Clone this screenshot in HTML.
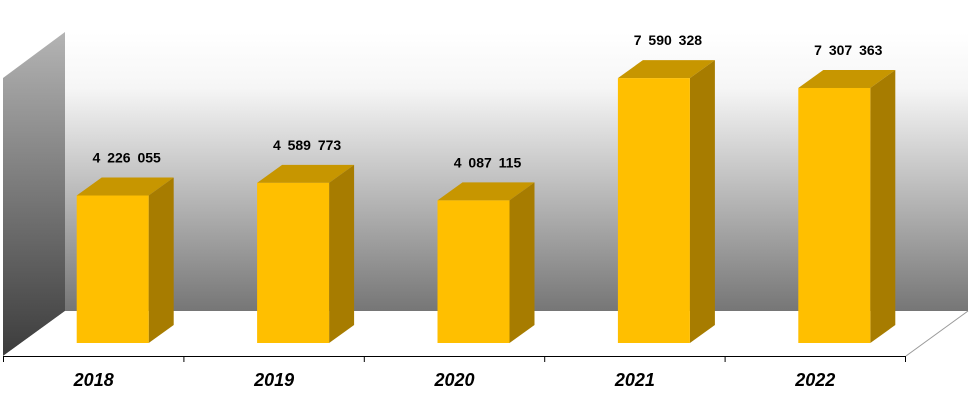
<!DOCTYPE html>
<html><head><meta charset="utf-8"><style>
html,body{margin:0;padding:0;background:#fff;width:977px;height:416px;overflow:hidden}
svg{display:block}
text{font-family:"Liberation Sans",sans-serif;font-weight:bold}
</style></head><body>
<svg id="chart" width="977" height="416" viewBox="0 0 977 416" xmlns="http://www.w3.org/2000/svg">
<defs>
<linearGradient id="backG" x1="0" y1="0" x2="0" y2="1">
<stop offset="0" stop-color="#ffffff"/><stop offset="0.2" stop-color="#f6f6f6"/><stop offset="1" stop-color="#767676"/>
</linearGradient>
<linearGradient id="leftG" x1="0" y1="0" x2="0" y2="1">
<stop offset="0" stop-color="#b4b4b4"/><stop offset="1" stop-color="#3c3c3c"/>
</linearGradient>
</defs>
<polygon points="65,32 968,32 968,311 65,311" fill="url(#backG)"/>
<polygon points="3,78 65,32 65,311 3,356" fill="url(#leftG)"/>
<polygon points="3,356 65,311 968,311 906,356" fill="#fff"/>
<polyline points="906,356 968,311" fill="none" stroke="#999" stroke-width="1"/>
<line x1="3" y1="356.5" x2="906" y2="356.5" stroke="#000" stroke-width="1"/>
<g id="bars"></g>
</svg>
<script>
const categories = ["2018","2019","2020","2021","2022"];
const values = [4226055, 4589773, 4087115, 7590328, 7307363];
const valueLabels = ["4 226 055","4 589 773","4 087 115","7 590 328","7 307 363"];

const NS = "http://www.w3.org/2000/svg";
const svg = document.getElementById("chart");
const g = document.getElementById("bars");
const x0 = 3.5, catW = 180.4, baseY = 343, pxPerUnit = 34.9 / 1e6;
const barW = 72, dx = 25, dy = 18;
function xCenter(i){ return x0 + catW * (i + 0.5); }
function yScale(v){ return baseY - v * pxPerUnit; }
function mk(tag, attrs){ const e = document.createElementNS(NS, tag); for (const k in attrs) e.setAttribute(k, attrs[k]); return e; }

for (let i = 0; i <= categories.length; i++) {
  const tx = x0 + catW * i;
  const t = mk("line", {x1: tx, y1: 356, x2: tx, y2: 362, stroke: "#000"});
  
  
  svg.appendChild(t);
}

categories.forEach((c, i) => {
  const L = xCenter(i) + 19 - barW / 2, R = L + barW, T = yScale(values[i]);
  const bar = mk("g", {});
  
  
  bar.appendChild(mk("polygon", {points: `${L},${T} ${L+dx},${T-dy} ${R+dx},${T-dy} ${R},${T}`, fill: "#c79600"}));
  bar.appendChild(mk("polygon", {points: `${R},${T} ${R+dx},${T-dy} ${R+dx},${baseY-dy} ${R},${baseY}`, fill: "#a77c00"}));
  bar.appendChild(mk("rect", {x: L, y: T, width: barW, height: baseY - T, fill: "#ffbf00"}));
  g.appendChild(bar);

  const lbl = mk("text", {x: L + barW/2 + 14, y: T - dy - 15, "text-anchor": "middle", "font-size": "14", fill: "#000", "word-spacing": "3"});
  lbl.textContent = valueLabels[i];
  
  
  svg.appendChild(lbl);

  const yl = mk("text", {x: xCenter(i), y: 386, "text-anchor": "middle", "font-size": "18", "font-style": "italic", fill: "#000"});
  yl.textContent = c;
  
  
  svg.appendChild(yl);
});
</script>
</body></html>
